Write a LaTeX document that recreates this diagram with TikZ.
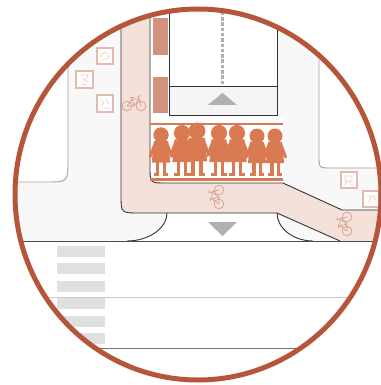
\documentclass[tikz,border=0pt]{standalone}
\usetikzlibrary{calc}
\definecolor{ring}{HTML}{B5563A}
\definecolor{walk}{HTML}{F8F8F8}
\definecolor{lane}{HTML}{F3E1DA}
\definecolor{kidc}{HTML}{DA7A52}
\definecolor{bar}{HTML}{D4927E}
\definecolor{signc}{HTML}{E3BBAE}
\definecolor{glyphc}{HTML}{EBCDC2}
\definecolor{bikec}{HTML}{D99C8B}
\definecolor{zebra}{HTML}{E0E0E0}
\definecolor{curbc}{HTML}{A0A0A0}
\definecolor{arrowc}{HTML}{B0B0B0}
\definecolor{bandc}{HTML}{F4F4F4}
\tikzset{
  edge/.style={draw=black!80, line width=0.9pt},
  curb/.style={draw=curbc, line width=0.9pt},
  kidline/.style={draw=kidc, line width=2.5pt},
  signbox/.style={draw=signc, fill=white, line width=1.4pt},
  glyph/.style={draw=glyphc, line width=0.7pt, line cap=round, line join=round},
  kid/.pic={
    \fill[kidc] (0,-40) circle[radius=7.5];
    \fill[kidc] (-7,-34) -- (7,-34) -- (9,-13) -- (-9,-13) -- cycle;
    \draw[kidc, line width=3pt, line cap=round] (-6,-31) -- (-10.5,-19);
    \draw[kidc, line width=3pt, line cap=round] (6,-31) -- (10.5,-19);
    \fill[kidc] (-5,-14) rectangle (-1.5,-2);
    \fill[kidc] (1.5,-14) rectangle (5,-2);
    \fill[kidc] (-7,-3) rectangle (-1.5,0);
    \fill[kidc] (1.5,-3) rectangle (7,0);
  },
  bike/.pic={
    \begin{scope}[draw=bikec, line width=0.7pt, line cap=round, line join=round]
      \draw (-7,0) circle[radius=4.8] (7,0) circle[radius=4.8];
      \draw (-7,0) -- (0,0) -- (-2,-7) -- cycle;
      \draw (-2,-7) -- (5,-7) -- (0,0);
      \draw (5,-7) -- (7,0);
      \draw (-3.8,-8.2) -- (-0.6,-8.2);
      \draw (5,-7) -- (4,-10) -- (6.5,-10);
    \end{scope}
  }
}
\begin{document}
\begin{tikzpicture}[x=1pt,y=-1pt]
\useasboundingbox (0,0) rectangle (380,385);
\begin{scope}
  \clip (198,194.5) ellipse [x radius=183, y radius=185.5];
  % sidewalk ground
  \fill[walk] (-20,-20) rectangle (400,400);
  % corner blocks
  \fill[white] (-20,-20) -- (68,-20) -- (68,160) .. controls (68,182) .. (46,182) -- (-20,182) -- cycle;
  \draw[curb] (68,-20) -- (68,160) .. controls (68,182) .. (46,182) -- (-20,182);
  \fill[white] (400,-20) -- (319,-20) -- (319,156) .. controls (319,168) .. (331,168) -- (400,168) -- cycle;
  \draw[curb] (319,-20) -- (319,156) .. controls (319,168) .. (331,168) -- (400,168);
  % carriageway
  \fill[white] (-20,241) rectangle (400,400);
  \fill[white] (167,213) .. controls (167,228) and (149,241) .. (127,241)
     -- (313,241) .. controls (293,241) and (277,228) .. (277,213) -- cycle;
  % side street and school frontage
  \fill[white] (150,-20) rectangle (277,124);
  \fill[white] (150,118) rectangle (283,183);
  \fill[bandc] (169,86) rectangle (277,115);
  % cycle track
  \fill[lane] (121,-20) -- (121,195) .. controls (121,213) .. (139,213) -- (277,213) -- (340,241)
     -- (400,241) -- (400,210) -- (342,210) -- (283,183) -- (166,183)
     .. controls (150,183) .. (150,167) -- (150,-20) -- cycle;
  \draw[edge] (121,-20) -- (121,195) .. controls (121,213) .. (139,213) -- (277,213) -- (340,241);
  \draw[edge] (150,-20) -- (150,167) .. controls (150,183) .. (166,183) -- (283,183) -- (342,210) -- (400,210);
  % separator bars
  \fill[bar] (153,18) rectangle (168,55);
  \fill[bar] (153,77) rectangle (168,113);
  % side street outline
  \draw[edge] (169,-20) -- (169,115) -- (277,115) -- (277,-20);
  \draw[edge] (169,86) -- (277,86);
  \draw[arrowc, line width=3pt, dash pattern=on 3.5pt off 1.8pt] (222.5,-20) -- (222.5,86);
  \fill[arrowc] (208,105) -- (237,105) -- (222.5,93) -- cycle;
  \fill[arrowc] (208,222) -- (237,222) -- (222.5,236) -- cycle;
  % curb corners
  \draw[edge] (167,213) .. controls (167,228) and (149,241) .. (127,241);
  \draw[edge] (277,213) .. controls (277,228) and (293,241) .. (313,241);
  % lane lines
  \draw[black!70, line width=1pt] (-20,241) -- (400,241);
  \draw[black!20, line width=0.9pt] (-20,297) -- (400,297);
  \draw[black!55, line width=1pt] (-20,348) -- (400,348);
  % zebra crossing
  \foreach \i in {0,...,5}
    \fill[zebra] (57,{246+17.4*\i}) rectangle (105,{257+17.4*\i});
  % children band
  \draw[kidline] (150,124) -- (283,124);
  \draw[kidline] (150,179.5) -- (283,179.5);
  \pic[scale=1.025] at (161,176) {kid};
  \pic[scale=1.075] at (182,176) {kid};
  \pic[scale=1.125] at (197,176) {kid};
  \pic[scale=1.075] at (219,176) {kid};
  \pic[scale=1.075] at (237,176) {kid};
  \pic[scale=1.0] at (257,176) {kid};
  \pic[scale=1.0] at (275,176) {kid};
  % bicycle symbols
  \pic at (134,106) {bike};
  \pic[rotate=90] at (219,197) {bike};
  \pic[rotate=90] at (347,224) {bike};
  % pictogram signs
  \draw[signbox] (97,48) rectangle (113,64);
  \draw[glyph] (101,57) .. controls (101,51) and (109,51) .. (109,56) -- (106,60) (103,60) -- (105,58);
  \draw[signbox] (76,71) rectangle (93,88);
  \draw[glyph] (81,75) -- (88,75) -- (86,79) (83,79) -- (88,82) (82,84) -- (87,85);
  \draw[signbox] (97,95) rectangle (113,112);
  \draw[glyph] (101,99) -- (104,102) -- (102,106) (106,99) -- (109,104) (104,108) -- (109,108);
  \draw[signbox] (341,172) rectangle (357,188);
  \draw[glyph] (345,176) -- (352,176) -- (352,181) -- (345,181) -- cycle (347,181) -- (345,185) (350,181) -- (350,185) -- (353,185);
  \draw[signbox] (363,191) rectangle (379,207);
  \draw[glyph] (367,196) -- (375,196) (371,196) -- (369,203) (373,196) -- (376,200);
\end{scope}
\draw[ring, line width=5pt] (198,194.5) ellipse [x radius=183, y radius=185.5];
\end{tikzpicture}
\end{document}
